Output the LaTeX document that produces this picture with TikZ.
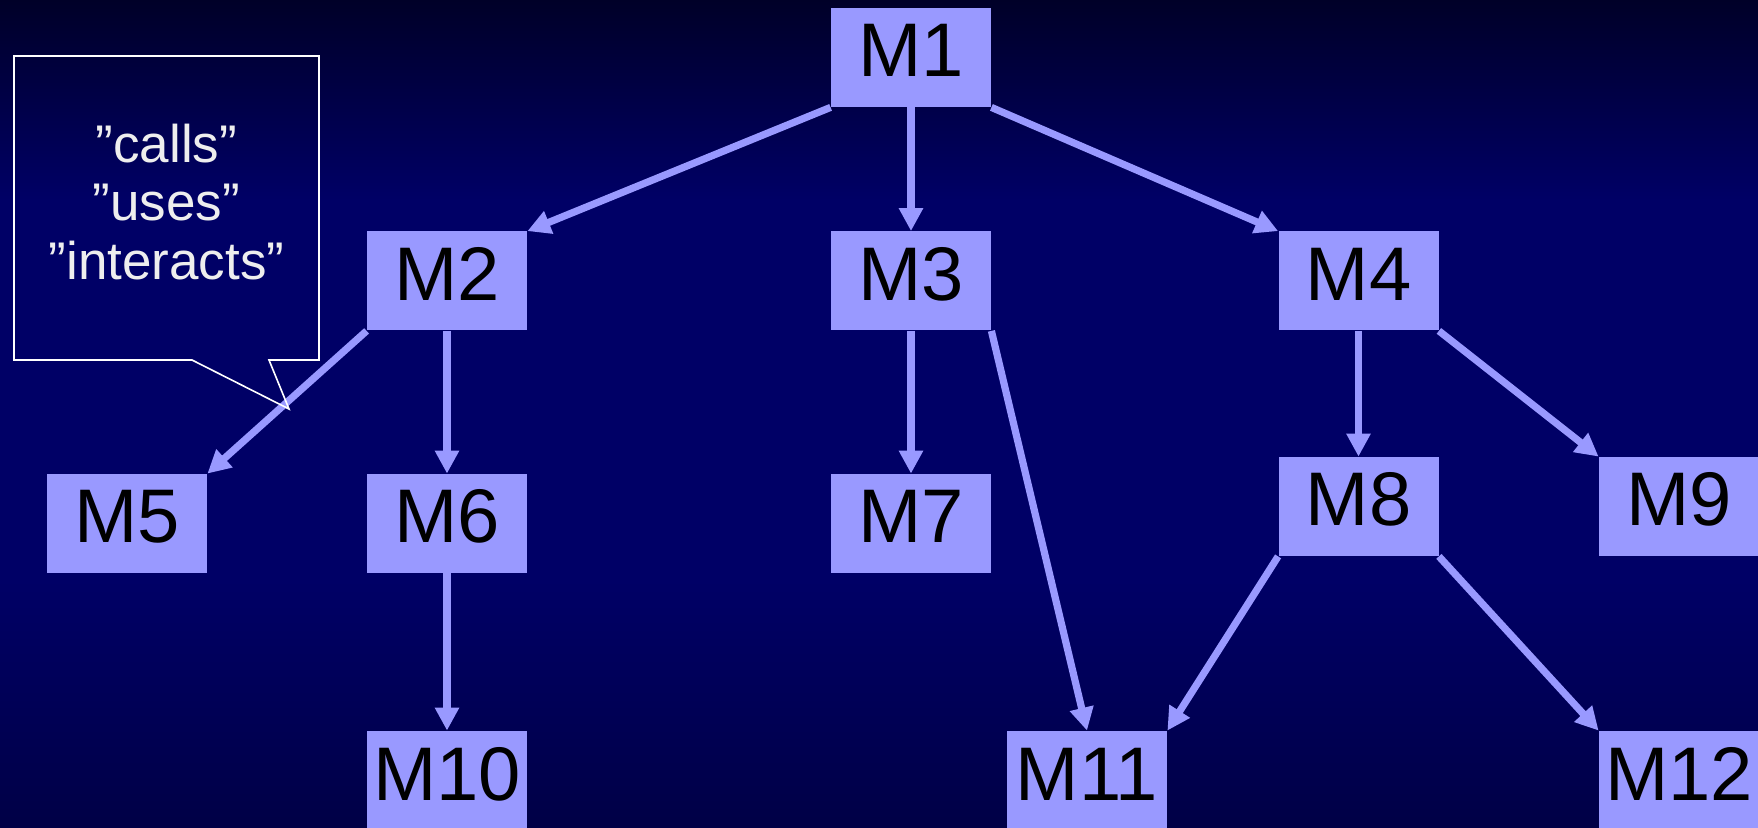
\documentclass[tikz,border=0pt]{standalone}
\usepackage{fontspec}
\setmainfont{Liberation Sans}
\usetikzlibrary{arrows.meta}
\definecolor{boxblue}{RGB}{153,153,255}
\definecolor{bgtop}{RGB}{0,0,40}
\definecolor{bgmid}{RGB}{0,0,102}
\definecolor{bgbot}{RGB}{0,0,70}
\definecolor{calltext}{RGB}{238,238,238}
\tikzset{
  modbox/.style={fill=boxblue, draw=none, inner sep=0pt, minimum width=80pt, minimum height=49.5pt,
    text=black, font=\fontsize{38pt}{40pt}\selectfont, text height=27pt, text depth=7.5pt},
  link/.style={draw=boxblue, line width=3.6pt, -{Triangle[width=11.5pt,length=11.5pt]}},
  calloutline/.style={draw=white, line width=0.8pt, line join=miter},
  callouttext/.style={anchor=base, inner sep=0pt, text=calltext, font=\fontsize{26.5pt}{29pt}\selectfont}
}
\begin{document}
\begin{tikzpicture}[x=0.5pt, y=-0.5pt]
\useasboundingbox (0,0) rectangle (1758,828);
\fill[bgmid] (0,195) rectangle (1758,585);
\shade[top color=bgtop, bottom color=bgmid] (0,0) rectangle (1758,200);
\shade[top color=bgmid, bottom color=bgbot] (0,580) rectangle (1758,828);

\node[modbox] (M1)  at (911,57.5)   {M1};
\node[modbox] (M2)  at (447,281)    {M2};
\node[modbox] (M3)  at (911,281)    {M3};
\node[modbox] (M4)  at (1358.5,281) {M4};
\node[modbox] (M5)  at (127,523.5)  {M5};
\node[modbox] (M6)  at (447,523.5)  {M6};
\node[modbox] (M7)  at (911,523.5)  {M7};
\node[modbox] (M8)  at (1358.5,506.5) {M8};
\node[modbox] (M9)  at (1679,506.5) {M9};
\node[modbox] (M10) at (447,780.5)  {M10};
\node[modbox] (M11) at (1087,780.5) {M11};
\node[modbox] (M12) at (1679,780.5) {M12};

\draw[link] (M1.south west) -- (M2.north east);
\draw[link] (M1.south) -- (M3.north);
\draw[link] (M1.south east) -- (M4.north west);
\draw[link] (M2.south west) -- (M5.north east);
\draw[link] (M2.south) -- (M6.north);
\draw[link] (M3.south) -- (M7.north);
\draw[link] (M3.south east) -- (M11.north);
\draw[link] (M4.south) -- (M8.north);
\draw[link] (M4.south east) -- (M9.north west);
\draw[link] (M6.south) -- (M10.north);
\draw[link] (M8.south west) -- (M11.north east);
\draw[link] (M8.south east) -- (M12.north west);

\draw[calloutline] (14,56) -- (319,56) -- (319,360) -- (269,360) -- (289,409) -- (192,360) -- (14,360) -- cycle;
\node[callouttext] (c1) at (166.5,163) {”calls”};
\node[callouttext] (c2) at (166.5,221) {”uses”};
\node[callouttext] (c3) at (166.5,280) {”interacts”};
\end{tikzpicture}
\end{document}
